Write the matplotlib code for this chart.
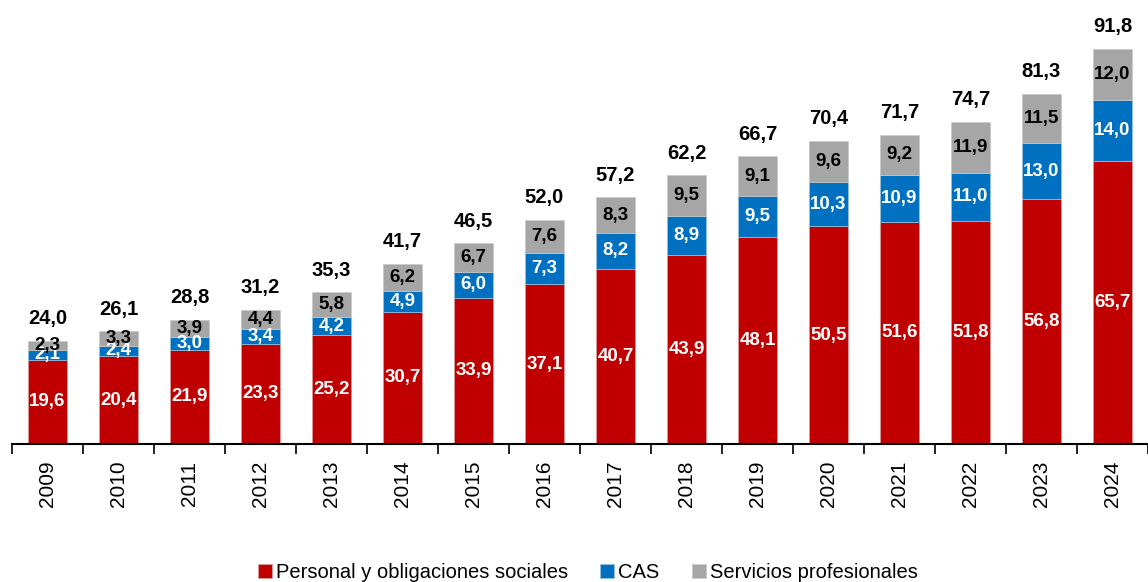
import numpy as np
import matplotlib
matplotlib.use("Agg")
import matplotlib.pyplot as plt

plt.rcParams["font.family"] = ["Liberation Sans", "DejaVu Sans"]

years = ["2009", "2010", "2011", "2012", "2013", "2014", "2015", "2016",
         "2017", "2018", "2019", "2020", "2021", "2022", "2023", "2024"]
personal = [19.6, 20.4, 21.9, 23.3, 25.2, 30.7, 33.9, 37.1, 40.7, 43.9, 48.1, 50.5, 51.6, 51.8, 56.8, 65.7]
cas = [2.1, 2.4, 3.0, 3.4, 4.2, 4.9, 6.0, 7.3, 8.2, 8.9, 9.5, 10.3, 10.9, 11.0, 13.0, 14.0]
servicios = [2.3, 3.3, 3.9, 4.4, 5.8, 6.2, 6.7, 7.6, 8.3, 9.5, 9.1, 9.6, 9.2, 11.9, 11.5, 12.0]
totales = [24.0, 26.1, 28.8, 31.2, 35.3, 41.7, 46.5, 52.0, 57.2, 62.2, 66.7, 70.4, 71.7, 74.7, 81.3, 91.8]

RED = "#C00000"
BLUE = "#0070C0"
GRAY = "#A6A6A6"


def fmt(v):
    return f"{v:.1f}".replace(".", ",")


fig = plt.figure(figsize=(11.48, 5.82), dpi=100)
ax = fig.add_axes([12 / 1148, 138 / 582, 1 - 12 / 1148, 1 - 138 / 582])

x = np.arange(len(years))
w = 0.55
p = np.array(personal)
c = np.array(cas)
s = np.array(servicios)

b1 = ax.bar(x, p, w, color=RED, edgecolor="#D9A0A0", linewidth=0.5,
            label="Personal y obligaciones sociales")
b2 = ax.bar(x, c, w, bottom=p, color=BLUE, edgecolor="#9CC3E0", linewidth=0.5, label="CAS")
b3 = ax.bar(x, s, w, bottom=p + c, color=GRAY, edgecolor="#C8C8C8", linewidth=0.5,
            label="Servicios profesionales")

for i in range(len(years)):
    ax.text(x[i], p[i] / 2, fmt(p[i]), ha="center", va="center",
            color="white", fontsize=13.5, fontweight="bold")
    ax.text(x[i], p[i] + c[i] / 2, fmt(c[i]), ha="center", va="center",
            color="white", fontsize=13.5, fontweight="bold")
    ax.text(x[i], p[i] + c[i] + s[i] / 2, fmt(s[i]), ha="center", va="center",
            color="black", fontsize=13.5, fontweight="bold")
    ax.annotate(fmt(totales[i]), (x[i], p[i] + c[i] + s[i]), xytext=(0, 9),
                textcoords="offset points", ha="center", va="bottom",
                fontsize=14.5, fontweight="bold")

ax.set_xlim(-0.5, len(years) - 0.5)
ax.set_ylim(0, 103)
ax.set_yticks([])
for side in ["left", "right", "top"]:
    ax.spines[side].set_visible(False)
ax.spines["bottom"].set_linewidth(1.5)

ax.set_xticks(x)
ax.set_xticklabels(years, rotation=90, fontsize=15)
ax.tick_params(axis="x", which="major", length=0, pad=12)
ax.set_xticks(np.arange(-0.5, len(years), 1.0), minor=True)
ax.tick_params(axis="x", which="minor", length=7, width=1.2)

fig.legend(handles=[b1, b2, b3], loc="lower center", bbox_to_anchor=(0.512, -0.032),
           ncol=3, frameon=False, fontsize=14.5, handlelength=0.7, handleheight=0.7,
           handletextpad=0.2, columnspacing=1.6)

fig.savefig("out.png", dpi=100)
